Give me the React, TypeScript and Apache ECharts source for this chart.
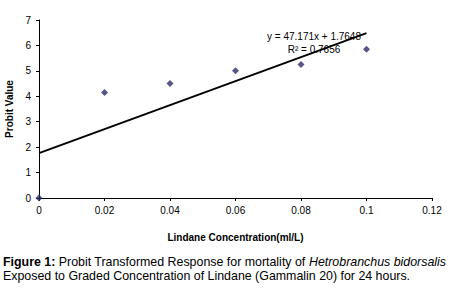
import React, { useEffect, useRef } from "react";
import * as echarts from "echarts";

const concentrations = [0, 0.02, 0.04, 0.06, 0.08, 0.1];
const probitValues = [0, 4.15, 4.5, 5.0, 5.25, 5.85];
const trendSlope = 47.171;
const trendIntercept = 1.7648;
const rSquared = "0.7656";
const xTicks = { min: 0, max: 0.12, interval: 0.02 };
const yTicks = { min: 0, max: 7, interval: 1 };

const FONT = "'Liberation Sans', Arial, sans-serif";

export default function App() {
  const ref = useRef<HTMLDivElement>(null);
  useEffect(() => {
    if (!ref.current) return;
    const chart = echarts.init(ref.current, null, { renderer: "svg" });
    const points = concentrations.map((x, i) => [x, probitValues[i]]);
    const xEnd = concentrations[concentrations.length - 1];
    const trend = [
      [0, trendIntercept],
      [xEnd, trendSlope * xEnd + trendIntercept],
    ];
    chart.setOption({
      animation: false,
      backgroundColor: "#ffffff",
      textStyle: { fontFamily: FONT },
      grid: {
        left: 39,
        top: 20,
        right: 18,
        bottom: 95,
        containLabel: false,
        outerBoundsMode: "none",
      },
      xAxis: {
        type: "value",
        min: xTicks.min,
        max: xTicks.max,
        interval: xTicks.interval,
        name: "Lindane Concentration(ml/L)",
        nameLocation: "middle",
        nameGap: 34,
        nameTextStyle: { fontSize: 10, fontWeight: "bold", color: "#000", fontFamily: FONT },
        axisLine: { lineStyle: { color: "#000", width: 1 } },
        axisTick: { show: true, length: 3, lineStyle: { color: "#000" } },
        axisLabel: {
          fontSize: 10,
          color: "#000",
          margin: 7,
          fontFamily: FONT,
          formatter: (v: number) => String(parseFloat(v.toFixed(2))),
        },
        splitLine: { show: false },
      },
      yAxis: {
        type: "value",
        min: yTicks.min,
        max: yTicks.max,
        interval: yTicks.interval,
        name: "Probit Value",
        nameLocation: "middle",
        nameGap: 23,
        nameRotate: 90,
        nameTextStyle: { fontSize: 10, fontWeight: "bold", color: "#000", fontFamily: FONT },
        axisLine: { show: true, lineStyle: { color: "#000", width: 1 } },
        axisTick: { show: true, length: 3, lineStyle: { color: "#000" } },
        axisLabel: { fontSize: 10, color: "#000", margin: 8, fontFamily: FONT },
        splitLine: { show: false },
      },
      series: [
        {
          type: "line",
          data: trend,
          showSymbol: false,
          symbol: "none",
          lineStyle: { color: "#000", width: 2 },
          z: 2,
        },
        {
          type: "scatter",
          data: points,
          symbol: "diamond",
          symbolSize: 7,
          itemStyle: { color: "#2c2c6a" },
          z: 3,
        },
      ],
      graphic: [
        {
          type: "text",
          x: 314,
          y: 36,
          z: 10,
          style: {
            text: `y = ${trendSlope}x + ${trendIntercept}`,
            fontSize: 10,
            fill: "#000",
            fontFamily: FONT,
            align: "center",
            verticalAlign: "middle",
          },
        },
        {
          type: "text",
          x: 314,
          y: 49,
          z: 10,
          style: {
            text: `R² = ${rSquared}`,
            fontSize: 10,
            fill: "#000",
            fontFamily: FONT,
            align: "center",
            verticalAlign: "middle",
          },
        },
        {
          type: "text",
          left: 3,
          top: 256,
          style: {
            rich: {
              b: { fontWeight: "bold", fontSize: 12.4, fill: "#000", fontFamily: FONT, lineHeight: 14 },
              n: { fontSize: 12.4, fill: "#000", fontFamily: FONT, lineHeight: 14 },
              i: { fontStyle: "italic", fontSize: 12.4, fill: "#000", fontFamily: FONT, lineHeight: 14 },
            },
            text:
              "{b|Figure 1:}{n| Probit Transformed Response for mortality of }{i|Hetrobranchus bidorsalis}\n{n|Exposed to Graded Concentration of Lindane (Gammalin 20) for 24 hours.}",
          },
        },
      ],
    });
    return () => chart.dispose();
  }, []);
  return (
    <div
      ref={ref}
      style={{ position: "fixed", left: 0, top: 0, width: 450, height: 293, background: "#fff" }}
    />
  );
}
